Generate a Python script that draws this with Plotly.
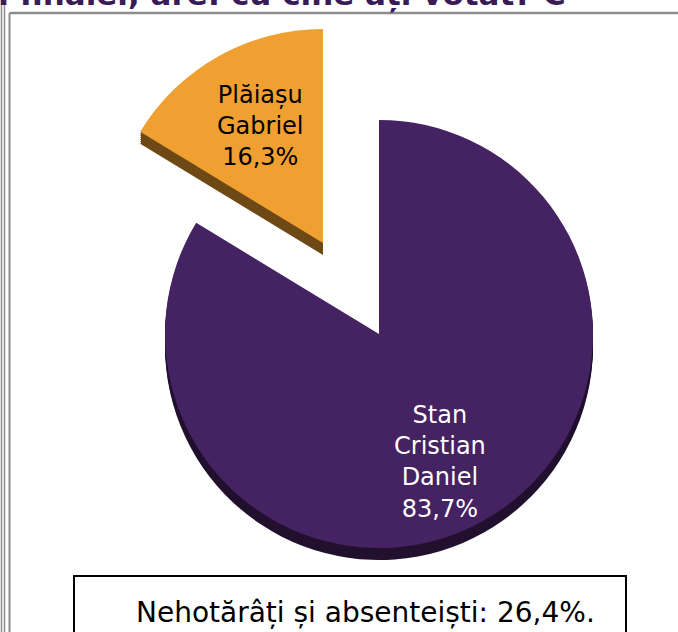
import plotly.graph_objects as go

# ---- data -------------------------------------------------------------
candidates = ["Stan Cristian Daniel", "Plăiașu Gabriel"]
label_lines = [["Stan", "Cristian", "Daniel"], ["Plăiașu", "Gabriel"]]
shares = [83.7, 16.3]                      # % of declared votes
undecided_label = "Nehotărâți și absenteiști"
undecided_share = 26.4
title_text = "turul finalei, are: cu cine ați votat? C"

# ---- style ------------------------------------------------------------
W, H = 678, 632
FONT = "DejaVu Sans"
face_colors = ["#452262", "#F09F31"]
side_colors = ["#22102F", "#6E4915"]
label_colors = ["white", "black"]
TRANSPARENT = "rgba(0,0,0,0)"

R = 214                      # pie radius in px
DEPTH = 12                   # thickness of the 3-D rim in px
centers = [(379, 334), (323, 243)]   # slice i is drawn from a pie centred here (px, from top-left)


def pie_trace(slice_idx, cx, cy, color):
    """Full pie of all shares where only one slice is painted."""
    colors = [TRANSPARENT] * len(shares)
    colors[slice_idx] = color
    return go.Pie(
        labels=candidates,
        values=shares,
        sort=False,
        direction="clockwise",
        rotation=0,
        marker=dict(colors=colors, line=dict(width=0)),
        textinfo="none",
        hoverinfo="skip",
        showlegend=False,
        domain=dict(
            x=[(cx - R) / W, (cx + R) / W],
            y=[(H - cy - R) / H, (H - cy + R) / H],
        ),
    )


fig = go.Figure()

for i, (cx, cy) in enumerate(centers):
    # dark side wall, stacked a few px at a time below the face
    for d in range(DEPTH, 0, -2):
        fig.add_trace(pie_trace(i, cx, cy + d, side_colors[i]))
    fig.add_trace(pie_trace(i, cx, cy, face_colors[i]))


def fmt(v):
    return f"{v:.1f}%".replace(".", ",")


# slice labels
label_pos = [(440, 462), (260, 126)]
annotations = []
for i, (px, py) in enumerate(label_pos):
    annotations.append(dict(
        x=px / W, y=1 - py / H, xref="paper", yref="paper",
        xanchor="center", yanchor="middle", showarrow=False,
        text="<br>".join(label_lines[i] + [fmt(shares[i])]),
        font=dict(family=FONT, size=24, color=label_colors[i]),
        align="center",
    ))

# question heading, running off the top edge
annotations.append(dict(
    x=568 / W, y=1 - 15 / H, xref="paper", yref="paper",
    xanchor="right", yanchor="bottom", showarrow=False,
    text=f"<b>{title_text}</b>",
    font=dict(family=FONT, size=31, color="#3B1B57"),
))

# undecided note in the box below the pie
annotations.append(dict(
    x=366 / W, y=1 - 612 / H, xref="paper", yref="paper",
    xanchor="center", yanchor="middle", showarrow=False,
    text=f"{undecided_label}: {fmt(undecided_share)}.",
    font=dict(family=FONT, size=28, color="black"),
))

grey = "#8C8C8C"
shapes = [
    # outer double frame on the left
    dict(type="line", xref="paper", yref="paper", x0=1.5 / W, x1=1.5 / W, y0=0, y1=1,
         line=dict(color=grey, width=1.5)),
    dict(type="line", xref="paper", yref="paper", x0=4.5 / W, x1=4.5 / W, y0=0, y1=1,
         line=dict(color=grey, width=1.5)),
    # inner frame
    dict(type="line", xref="paper", yref="paper", x0=9.5 / W, x1=9.5 / W, y0=0, y1=1 - 13 / H,
         line=dict(color=grey, width=2)),
    dict(type="line", xref="paper", yref="paper", x0=9.5 / W, x1=1, y0=1 - 13 / H, y1=1 - 13 / H,
         line=dict(color=grey, width=2.5)),
    # note box
    dict(type="rect", xref="paper", yref="paper",
         x0=74 / W, x1=626 / W, y0=-10 / H, y1=1 - 576 / H,
         line=dict(color="black", width=2), fillcolor="white", layer="below"),
]

fig.update_layout(
    width=W, height=H,
    margin=dict(l=0, r=0, t=0, b=0),
    paper_bgcolor="white", plot_bgcolor="white",
    annotations=annotations,
    shapes=shapes,
    showlegend=False,
)

fig.write_html("out.html")
